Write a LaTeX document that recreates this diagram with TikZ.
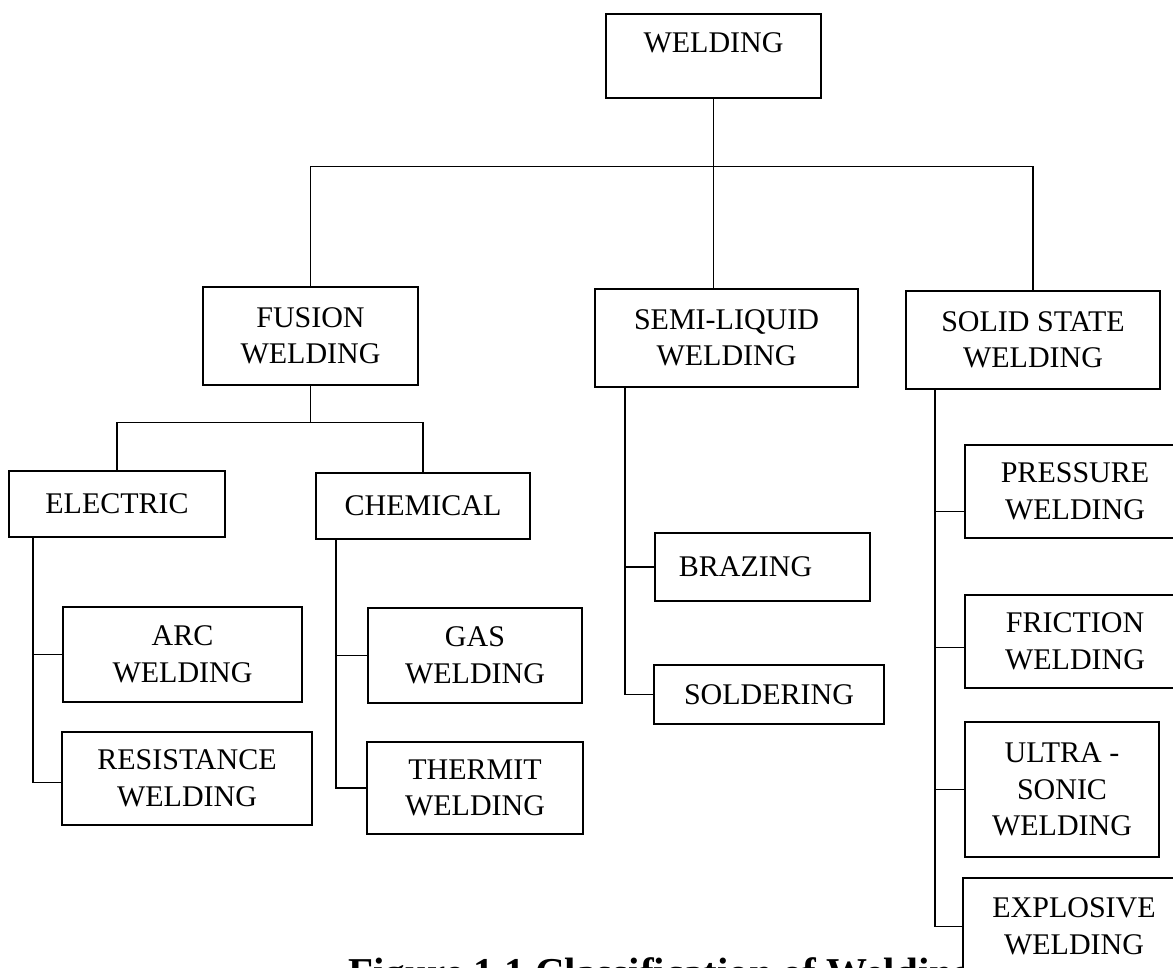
\documentclass[tikz,border=0pt]{standalone}
\usepackage{fontspec}
\setmainfont{Liberation Serif}
\usetikzlibrary{calc, positioning}

\begin{document}
\begin{tikzpicture}[x=1pt, y=-1pt,
    box/.style={draw, line width=1.6pt, fill=white, align=center, inner sep=0pt,
        font=\fontsize{30}{36.5}\selectfont},
    link/.style={line width=1.3pt}]
    % Page
    \fill[white] (0,0) rectangle (1173,968);
    \useasboundingbox (0,0) rectangle (1173,968);

    % Caption (partly hidden below the last box)
    \node[anchor=base west, inner sep=0pt, font=\fontsize{41}{46}\selectfont\bfseries]
        (caption) at (348,986) {Figure 1.1 Classification of Welding};

    % Top level
    \node[box, minimum width=215pt, minimum height=84pt] (welding) at (713.5,56) {WELDING\\[-10pt]\phantom{W}};

    % Main groups
    \node[box, minimum width=215pt, minimum height=98pt] (fusion) at (310.5,336) {FUSION\\WELDING};
    \node[box, minimum width=263pt, minimum height=98pt] (semi) at (726.5,338) {SEMI-LIQUID\\WELDING};
    \node[box, minimum width=254pt, minimum height=98pt] (solid) at (1033,340) {SOLID STATE\\WELDING};

    % Fusion welding
    \node[box, minimum width=216pt, minimum height=66pt] (electric) at (117,504) {ELECTRIC};
    \node[box, minimum width=214pt, minimum height=66pt] (chemical) at (423,506) {CHEMICAL};
    \node[box, minimum width=239pt, minimum height=95pt] (arc) at (182.5,654.5) {ARC\\WELDING};
    \node[box, minimum width=250pt, minimum height=93pt] (resistance) at (187,778.5) {RESISTANCE\\WELDING};
    \node[box, minimum width=214pt, minimum height=95pt] (gas) at (475,655.5) {GAS\\WELDING};
    \node[box, minimum width=216pt, minimum height=92pt] (thermit) at (475,788) {THERMIT\\WELDING};

    % Semi-liquid welding
    \node[box, minimum width=215pt, minimum height=68pt] (brazing) at (762.5,567) {BRAZING\hspace{34pt}};
    \node[box, minimum width=230pt, minimum height=59pt] (soldering) at (769,694.5) {SOLDERING};

    % Solid state welding
    \node[box, minimum width=220pt, minimum height=93pt] (pressure) at (1075,491.5) {PRESSURE\\WELDING};
    \node[box, minimum width=220pt, minimum height=93pt] (friction) at (1075,641.5) {FRICTION\\WELDING};
    \node[box, minimum width=194pt, minimum height=135pt] (ultra) at (1062,789.5) {ULTRA -\\SONIC\\WELDING};
    \node[box, minimum width=222pt, minimum height=97pt] (explosive) at (1074,926.5) {EXPLOSIVE\\WELDING};

    % Tree lines
    \coordinate (bus) at ($(welding.south)+(0,68)$);
    \draw[link] (welding.south) -- (welding.south |- semi.north);
    \draw[link] (fusion.north) |- (bus) -| (solid.north);

    \coordinate (fbus) at ($(fusion.south)+(0,37)$);
    \draw[link] (fusion.south) -- (fbus);
    \draw[link] (electric.north) |- (fbus) -| (chemical.north);

    \coordinate (etop) at ([xshift=-84pt]electric.south);
    \draw[link] (etop) |- ([yshift=-4pt]resistance.west);
    \draw[link] (arc.west) -- (arc.west -| etop);

    \coordinate (ctop) at ([xshift=-87pt]chemical.south);
    \draw[link] (ctop) |- (thermit.west);
    \draw[link] (gas.west) -- (gas.west -| ctop);

    \coordinate (stop) at ([xshift=-101.5pt]semi.south);
    \draw[link] (stop) |- (soldering.west);
    \draw[link] (brazing.west) -- (brazing.west -| stop);

    \coordinate (ltop) at ([xshift=-98pt]solid.south);
    \draw[link] (ltop) |- (explosive.west);
    \draw[link] ([yshift=-20pt]pressure.west) -- ++(-30,0);
    \draw[link] ([yshift=-6pt]friction.west) -- ++(-30,0);
    \draw[link] (ultra.west) -- (ultra.west -| ltop);
\end{tikzpicture}
\end{document}
